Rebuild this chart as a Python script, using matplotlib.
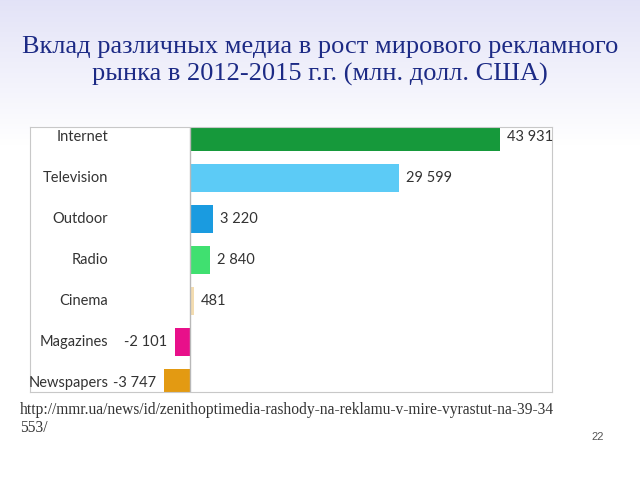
import numpy as np
import matplotlib
matplotlib.use("Agg")
import matplotlib.pyplot as plt

media = ["Internet", "Television", "Outdoor", "Radio", "Cinema", "Magazines", "Newspapers"]
growth = [43931, 29599, 3220, 2840, 481, -2101, -3747]
colors = ["#16993b", "#5ccbf6", "#1a9be0", "#40e070", "#f3dcb0", "#e8108a", "#e39a12"]

title = "Вклад различных медиа в рост мирового рекламного\nрынка в 2012-2015 г.г. (млн. долл. США)"
source = "http://mmr.ua/news/id/zenithoptimedia-rashody-na-reklamu-v-mire-vyrastut-na-39-34\n553/"

W, H = 640, 480
fig = plt.figure(figsize=(6.4, 4.8), dpi=100)

# background gradient (lavender at top fading to white)
bg = fig.add_axes([0, 0, 1, 1], zorder=-10)
grad = np.linspace(0, 1, 256)[:, None]
top = np.array([0.89, 0.89, 0.97])
rgb = top + (1 - top) * np.clip(grad / 0.3, 0, 1)[..., None]
bg.imshow(np.repeat(rgb, 4, axis=1), aspect="auto", extent=[0, 1, 0, 1])
bg.axis("off")

fig.text(0.5, 1 - 61 / H, title, ha="center", va="center", fontsize=19,
         family="Liberation Serif", color="#1c2a85", linespacing=1.3)

# plot area box in pixels
x0, x1, y0, y1 = 30, 552, 127, 392
ax = fig.add_axes([x0 / W, 1 - y1 / H, (x1 - x0) / W, (y1 - y0) / H])
ax.set_facecolor("white")
y = np.arange(len(media))
ax.barh(y, growth, height=0.68, color=colors)
ax.set_xlim(-22700, 51300)
ax.set_ylim(6.22, -0.24)
ax.axvline(0, color="#b8b8b8", lw=1)
ax.set_xticks([]); ax.set_yticks([])
for s in ax.spines.values():
    s.set_color("#c8c8c8")

for i, (name, v) in enumerate(zip(media, growth)):
    ax.text(-11600, i, name, ha="right", va="center", fontsize=10.5,
            family="Lato", color="#333333")
    lab = f"{v:,}".replace(",", " ")
    if v >= 0:
        ax.text(v + 1000, i, lab, ha="left", va="center", fontsize=10.5,
                family="Lato", color="#333333")
    else:
        ax.text(v - 1100, i, lab, ha="right", va="center", fontsize=10.5,
                family="Lato", color="#333333")

fig.text(20 / W, 1 - 419 / H, source, ha="left", va="center", fontsize=11.2,
         family="Liberation Serif", color="#333333", linespacing=1.2)
fig.text(598 / W, 1 - 437 / H, "22", ha="center", va="center", fontsize=8,
         family="Liberation Sans", color="#555555")

fig.savefig("out.png", dpi=100)
